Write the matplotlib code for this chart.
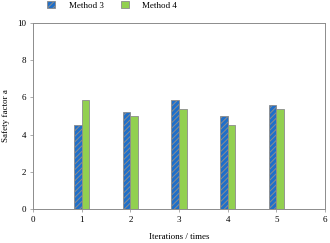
import numpy as np
import matplotlib
matplotlib.use('Agg')
import matplotlib.pyplot as plt

iterations = [1, 2, 3, 4, 5]
method3 = [4.53, 5.20, 5.87, 4.97, 5.60]
method4 = [5.87, 4.97, 5.38, 4.53, 5.38]

plt.rcParams['font.family'] = ['Liberation Serif', 'DejaVu Serif']
plt.rcParams['hatch.color'] = '#9cc6f2'
plt.rcParams['hatch.linewidth'] = 0.7

fig = plt.figure(figsize=(3.3, 2.43), dpi=100)
ax = fig.add_axes([0.1, 0.139, 0.885, 0.768])

x = np.array(iterations)
w = 0.16
ax.bar(x - w/2, method3, w, color='#1f6fc9', edgecolor='#8c8c8c', linewidth=0.6,
       hatch='//////', label='Method 3')
ax.bar(x + w/2, method4, w, color='#92d050', edgecolor='#8c8c8c', linewidth=0.6,
       label='Method 4')

ax.set_xlim(0, 6)
ax.set_ylim(0, 10)
ax.set_xticks(range(0, 7))
ax.set_yticks(range(0, 11, 2))
ax.tick_params(labelsize=6.5, length=2, width=0.5, color='#8c8c8c', pad=3)
for s in ax.spines.values():
    s.set_color('#8c8c8c')
    s.set_linewidth(0.7)

ax.set_xlabel('Iterations / times', fontsize=6.5, labelpad=6)
ax.set_ylabel('Safety factor a', fontsize=6.5, labelpad=5)

fig.legend(*ax.get_legend_handles_labels(), loc='center left',
           bbox_to_anchor=(0.142, 0.979), ncol=2, frameon=False,
           fontsize=6.5, handlelength=0.9, handleheight=0.9,
           handletextpad=1.5, columnspacing=1.9, borderpad=0, borderaxespad=0)

fig.savefig('out.png', dpi=100)
